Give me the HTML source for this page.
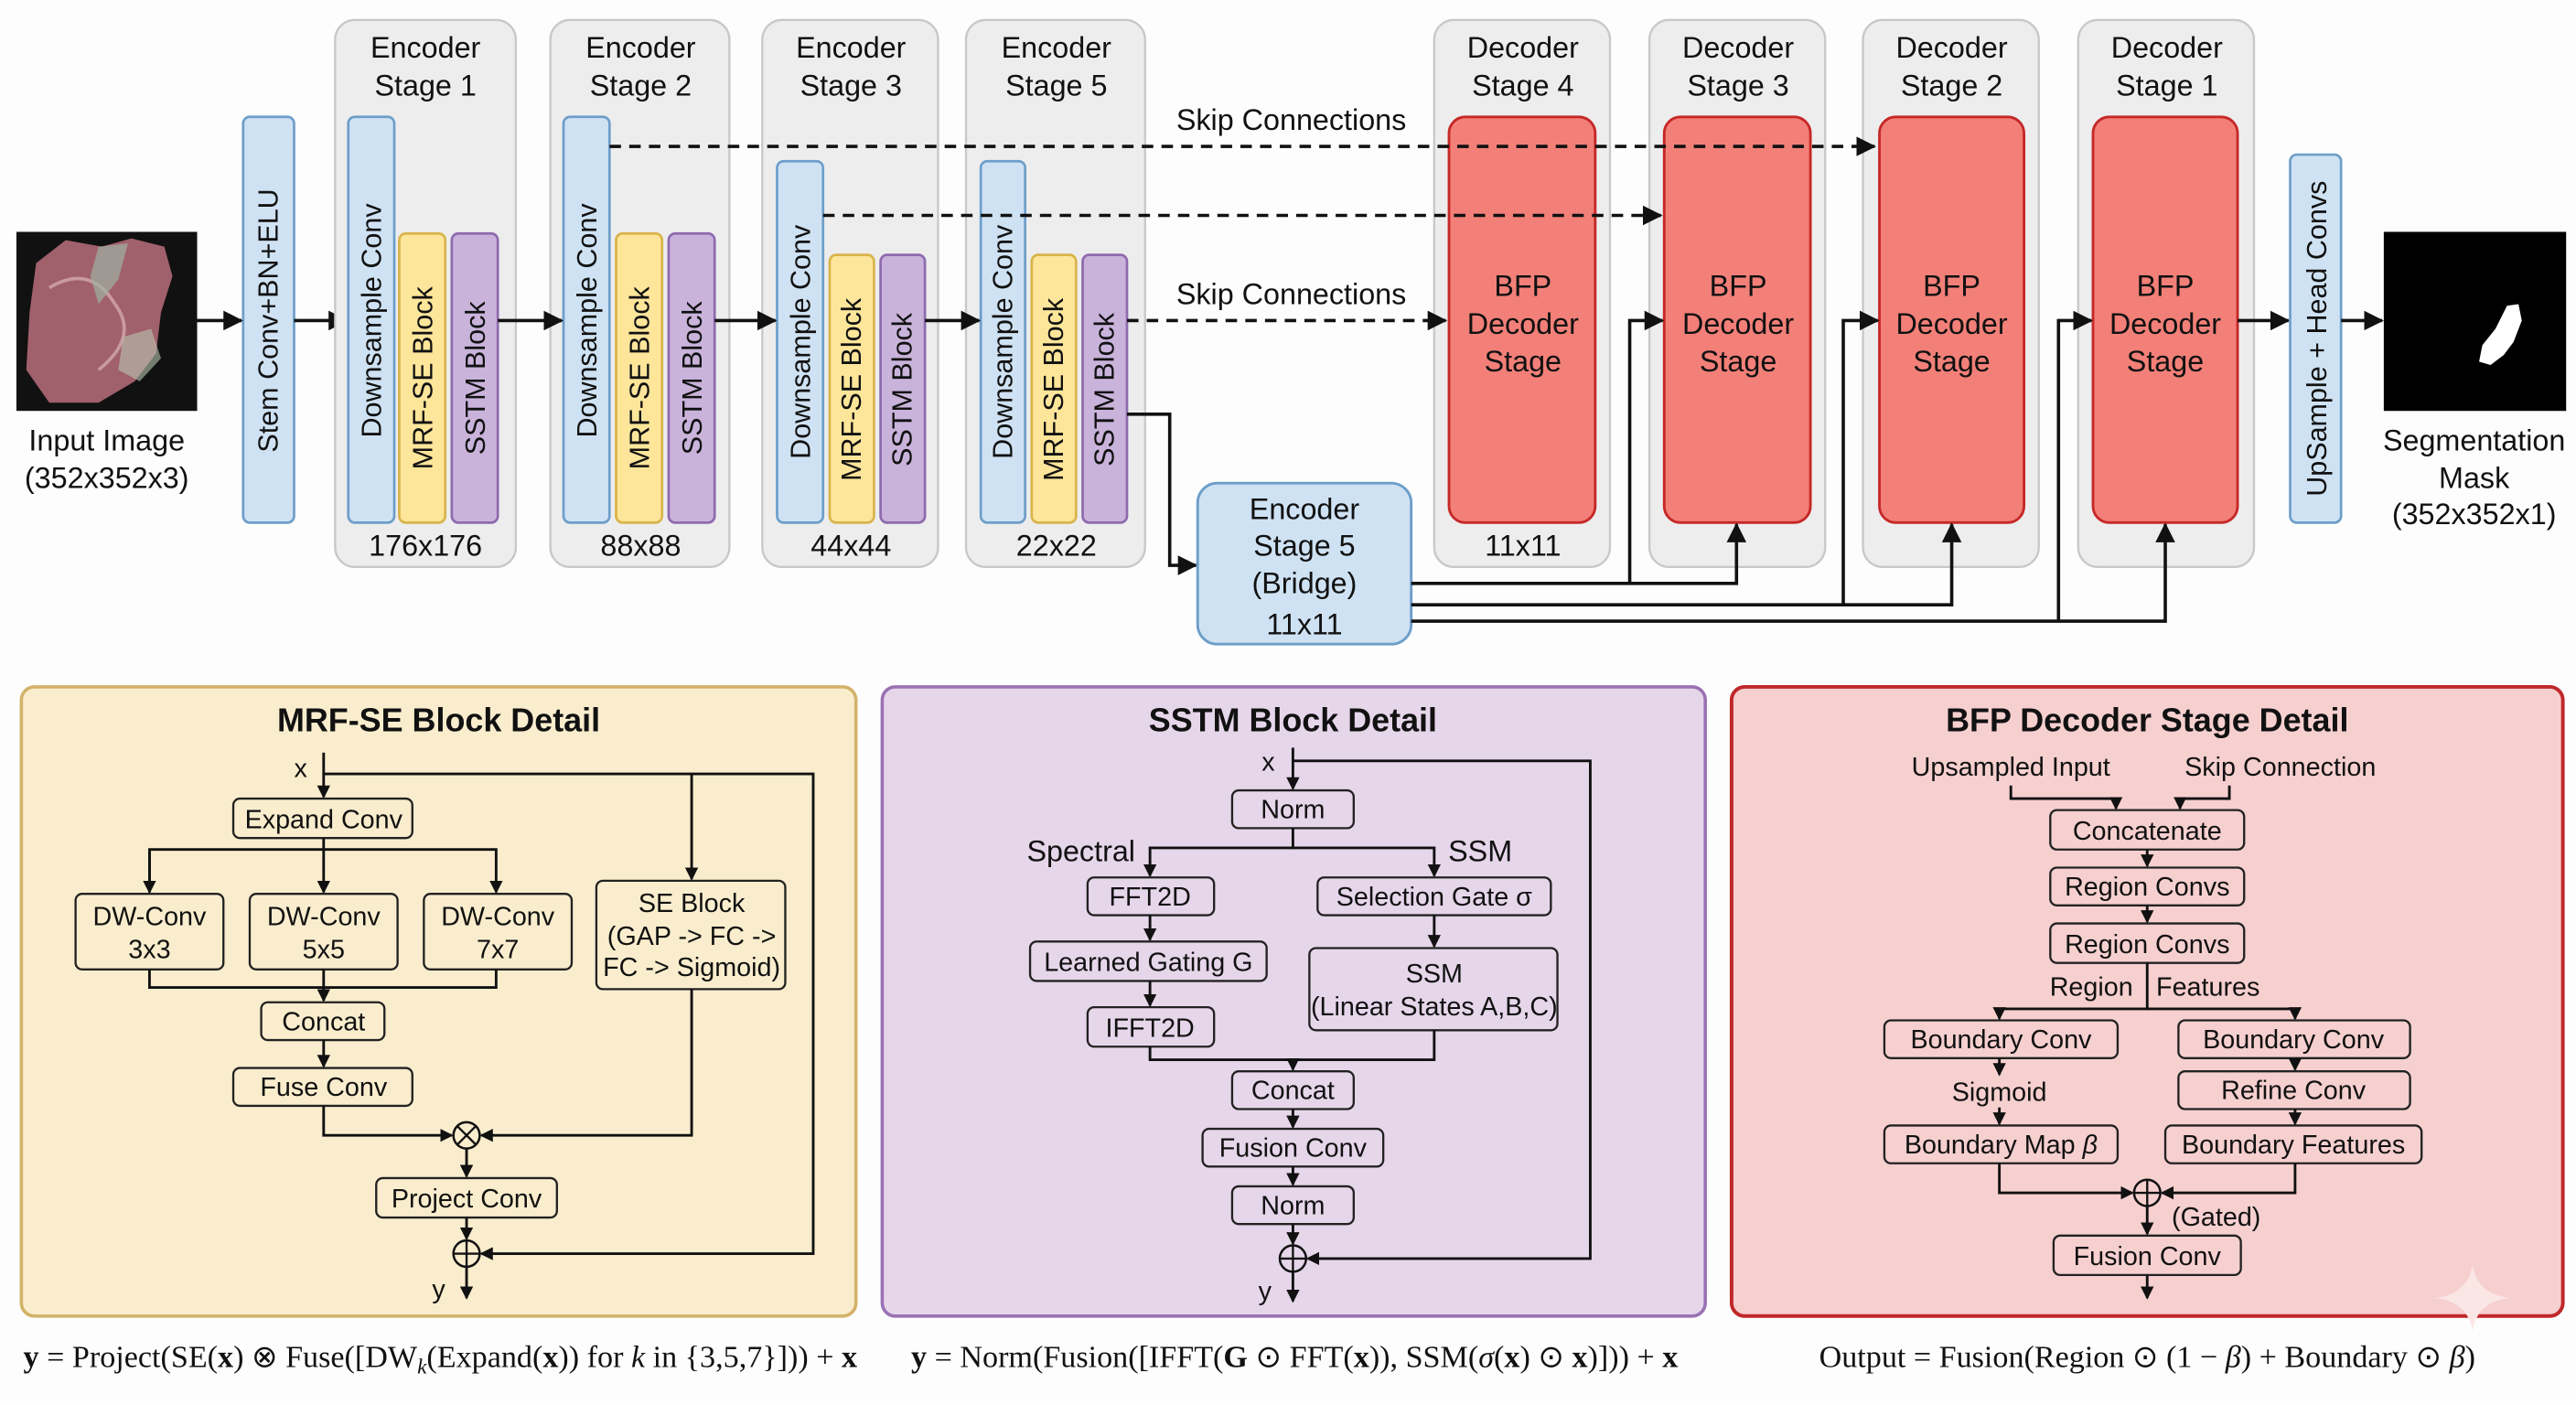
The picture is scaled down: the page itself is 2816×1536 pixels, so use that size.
<!DOCTYPE html>
<html><head><meta charset="utf-8"><style>
html,body{margin:0;padding:0;background:#fff;}
svg{display:block;}
text{font-family:"Liberation Sans",sans-serif;fill:#111;}
.n{font-family:"Liberation Sans Narrow","Liberation Sans",sans-serif;}
.t{font-size:18px;text-anchor:middle;}
.v{font-size:17px;text-anchor:middle;}
.b{font-size:16px;text-anchor:middle;}
.h{font-size:20px;font-weight:bold;text-anchor:middle;}
.f{font-family:"Liberation Serif",serif;font-size:19px;text-anchor:middle;}
.ln{stroke:#111;stroke-width:1.6;fill:none;}
.lt{stroke:#111;stroke-width:2;fill:none;}
.bx{stroke:#222;stroke-width:1.3;rx:4;}
</style></head><body>
<svg width="2816" height="1536" viewBox="0 0 1568 855" xmlns="http://www.w3.org/2000/svg">
<defs>
<marker id="a" markerWidth="12" markerHeight="12" refX="11" refY="6" orient="auto" markerUnits="userSpaceOnUse"><path d="M0,0 L12,6 L0,12 Z" fill="#111"/></marker>
<marker id="s" markerWidth="8" markerHeight="8" refX="7" refY="4" orient="auto" markerUnits="userSpaceOnUse"><path d="M0,0 L8,4 L0,8 Z" fill="#111"/></marker>
</defs>
<rect width="1568" height="855" fill="#fdfdfd"/>

<!-- Input image -->
<rect x="10" y="141" width="110" height="109" fill="#111"/>
<path d="M22,160 L40,146 L62,150 L80,145 L100,150 L105,168 L98,190 L95,215 L82,232 L60,245 L30,245 L16,225 L18,190 Z" fill="#a0606c"/>
<path d="M30,175 Q55,160 70,185 Q85,205 60,225" stroke="#c99aa0" stroke-width="2" fill="none"/>
<path d="M60,150 L78,148 L72,170 L60,185 L55,168 Z" fill="#9fb0a3" opacity="0.7"/>
<path d="M75,205 L92,200 L98,218 L85,232 L72,225 Z" fill="#b9c6b0" opacity="0.6"/>
<text class="t n" x="65" y="274">Input Image</text>
<text class="t n" x="65" y="297">(352x352x3)</text>

<!-- Stem -->
<rect x="148" y="71" width="31" height="247" rx="4" fill="#cfe2f3" stroke="#6d9ec9" stroke-width="1.5"/>
<text class="v" transform="translate(169,195) rotate(-90)">Stem Conv+BN+ELU</text>
<line class="lt" x1="120" y1="195" x2="147" y2="195" marker-end="url(#a)"/>
<line class="lt" x1="179" y1="195" x2="211" y2="195" marker-end="url(#a)"/>

<!-- Encoder panels -->
<g fill="#ededed" stroke="#c8c8c8" stroke-width="1.3">
<rect x="204" y="12" width="110" height="333" rx="12"/>
<rect x="335" y="12" width="109" height="333" rx="12"/>
<rect x="464" y="12" width="107" height="333" rx="12"/>
<rect x="588" y="12" width="109" height="333" rx="12"/>
<rect x="873" y="12" width="107" height="333" rx="12"/>
<rect x="1004" y="12" width="107" height="333" rx="12"/>
<rect x="1134" y="12" width="107" height="333" rx="12"/>
<rect x="1265" y="12" width="107" height="333" rx="12"/>
</g>
<g>
<text class="t n" x="259" y="35">Encoder</text><text class="t n" x="259" y="58">Stage 1</text>
<text class="t n" x="390" y="35">Encoder</text><text class="t n" x="390" y="58">Stage 2</text>
<text class="t n" x="518" y="35">Encoder</text><text class="t n" x="518" y="58">Stage 3</text>
<text class="t n" x="643" y="35">Encoder</text><text class="t n" x="643" y="58">Stage 5</text>
<text class="t n" x="927" y="35">Decoder</text><text class="t n" x="927" y="58">Stage 4</text>
<text class="t n" x="1058" y="35">Decoder</text><text class="t n" x="1058" y="58">Stage 3</text>
<text class="t n" x="1188" y="35">Decoder</text><text class="t n" x="1188" y="58">Stage 2</text>
<text class="t n" x="1319" y="35">Decoder</text><text class="t n" x="1319" y="58">Stage 1</text>
<text class="t n" x="259" y="338">176x176</text>
<text class="t n" x="390" y="338">88x88</text>
<text class="t n" x="518" y="338">44x44</text>
<text class="t n" x="643" y="338">22x22</text>
<text class="t n" x="927" y="338">11x11</text>
</g>

<!-- encoder blocks -->
<g stroke-width="1.5">
<rect x="212" y="71" width="28" height="247" rx="4" fill="#cfe2f3" stroke="#6d9ec9"/>
<rect x="243" y="142" width="28" height="176" rx="4" fill="#fde59a" stroke="#d9b44a"/>
<rect x="275" y="142" width="28" height="176" rx="4" fill="#c9b3db" stroke="#8e6aae"/>
<rect x="343" y="71" width="28" height="247" rx="4" fill="#cfe2f3" stroke="#6d9ec9"/>
<rect x="375" y="142" width="28" height="176" rx="4" fill="#fde59a" stroke="#d9b44a"/>
<rect x="407" y="142" width="28" height="176" rx="4" fill="#c9b3db" stroke="#8e6aae"/>
<rect x="473" y="98" width="28" height="220" rx="4" fill="#cfe2f3" stroke="#6d9ec9"/>
<rect x="505" y="155" width="27" height="163" rx="4" fill="#fde59a" stroke="#d9b44a"/>
<rect x="536" y="155" width="27" height="163" rx="4" fill="#c9b3db" stroke="#8e6aae"/>
<rect x="597" y="98" width="27" height="220" rx="4" fill="#cfe2f3" stroke="#6d9ec9"/>
<rect x="628" y="155" width="27" height="163" rx="4" fill="#fde59a" stroke="#d9b44a"/>
<rect x="659" y="155" width="27" height="163" rx="4" fill="#c9b3db" stroke="#8e6aae"/>
</g>
<g>
<text class="v" transform="translate(232,195) rotate(-90)">Downsample Conv</text>
<text class="v" transform="translate(263,230) rotate(-90)">MRF-SE Block</text>
<text class="v" transform="translate(295,230) rotate(-90)">SSTM Block</text>
<text class="v" transform="translate(363,195) rotate(-90)">Downsample Conv</text>
<text class="v" transform="translate(395,230) rotate(-90)">MRF-SE Block</text>
<text class="v" transform="translate(427,230) rotate(-90)">SSTM Block</text>
<text class="v" transform="translate(493,208) rotate(-90)">Downsample Conv</text>
<text class="v" transform="translate(524,237) rotate(-90)">MRF-SE Block</text>
<text class="v" transform="translate(555,237) rotate(-90)">SSTM Block</text>
<text class="v" transform="translate(616,208) rotate(-90)">Downsample Conv</text>
<text class="v" transform="translate(647,237) rotate(-90)">MRF-SE Block</text>
<text class="v" transform="translate(678,237) rotate(-90)">SSTM Block</text>
</g>
<line class="lt" x1="303" y1="195" x2="342" y2="195" marker-end="url(#a)"/>
<line class="lt" x1="435" y1="195" x2="472" y2="195" marker-end="url(#a)"/>
<line class="lt" x1="563" y1="195" x2="596" y2="195" marker-end="url(#a)"/>

<!-- decoder red boxes -->
<g fill="#f28078" stroke="#c62828" stroke-width="1.6">
<rect x="882" y="71" width="89" height="247" rx="10"/>
<rect x="1013" y="71" width="89" height="247" rx="10"/>
<rect x="1144" y="71" width="88" height="247" rx="10"/>
<rect x="1274" y="71" width="88" height="247" rx="10"/>
</g>
<g>
<text class="t n" x="927" y="180">BFP</text><text class="t n" x="927" y="203">Decoder</text><text class="t n" x="927" y="226">Stage</text>
<text class="t n" x="1058" y="180">BFP</text><text class="t n" x="1058" y="203">Decoder</text><text class="t n" x="1058" y="226">Stage</text>
<text class="t n" x="1188" y="180">BFP</text><text class="t n" x="1188" y="203">Decoder</text><text class="t n" x="1188" y="226">Stage</text>
<text class="t n" x="1318" y="180">BFP</text><text class="t n" x="1318" y="203">Decoder</text><text class="t n" x="1318" y="226">Stage</text>
</g>

<!-- skip connections -->
<g stroke="#111" stroke-width="2" stroke-dasharray="7,5" fill="none">
<line x1="371" y1="89" x2="1141" y2="89" marker-end="url(#a)"/>
<line x1="501" y1="131" x2="1011" y2="131" marker-end="url(#a)"/>
<line x1="686" y1="195" x2="880" y2="195" marker-end="url(#a)"/>
</g>
<text class="t n" x="786" y="79">Skip Connections</text>
<text class="t n" x="786" y="185">Skip Connections</text>

<!-- bridge -->
<path class="lt" d="M686,252 H712 V344 H728" marker-end="url(#a)"/>
<rect x="729" y="294" width="130" height="98" rx="12" fill="#cfe2f3" stroke="#6d9ec9" stroke-width="1.6"/>
<text class="t n" x="794" y="316">Encoder</text>
<text class="t n" x="794" y="338">Stage 5</text>
<text class="t n" x="794" y="361">(Bridge)</text>
<text class="t n" x="794" y="386">11x11</text>
<path class="lt" d="M859,355 H1057 V319" marker-end="url(#a)"/>
<path class="lt" d="M992,355 V195 H1012" marker-end="url(#a)"/>
<path class="lt" d="M859,368 H1188 V319" marker-end="url(#a)"/>
<path class="lt" d="M1122,368 V195 H1143" marker-end="url(#a)"/>
<path class="lt" d="M859,378 H1318 V319" marker-end="url(#a)"/>
<path class="lt" d="M1253,378 V195 H1273" marker-end="url(#a)"/>

<!-- upsample + mask -->
<line class="lt" x1="1362" y1="195" x2="1393" y2="195" marker-end="url(#a)"/>
<rect x="1394" y="94" width="31" height="224" rx="4" fill="#cfe2f3" stroke="#6d9ec9" stroke-width="1.5"/>
<text class="v" transform="translate(1416,206) rotate(-90)">UpSample + Head Convs</text>
<line class="lt" x1="1425" y1="195" x2="1450" y2="195" marker-end="url(#a)"/>
<rect x="1451" y="141" width="111" height="109" fill="#000"/>
<path d="M1526,186 L1533,185 L1535,195 L1530,208 L1524,216 L1516,222 L1509,220 L1511,210 L1519,200 Z" fill="#fff"/>
<text class="t n" x="1506" y="274">Segmentation</text>
<text class="t n" x="1506" y="297">Mask</text>
<text class="t n" x="1506" y="319">(352x352x1)</text>

<!-- ===== MRF-SE panel ===== -->
<rect x="13" y="418" width="508" height="383" rx="8" fill="#f9edcd" stroke="#d4b26a" stroke-width="2"/>
<text class="h" x="267" y="445">MRF-SE Block Detail</text>
<g fill="#f9edcd">
<rect class="bx" x="142" y="486" width="109" height="24"/>
<rect class="bx" x="46" y="544" width="90" height="46"/>
<rect class="bx" x="152" y="544" width="90" height="46"/>
<rect class="bx" x="258" y="544" width="90" height="46"/>
<rect class="bx" x="363" y="536" width="115" height="66" rx="8"/>
<rect class="bx" x="159" y="610" width="75" height="23"/>
<rect class="bx" x="142" y="650" width="109" height="23"/>
<rect class="bx" x="229" y="717" width="110" height="24"/>
</g>
<text class="b n" x="183" y="473">x</text>
<text class="b n" x="197" y="504">Expand Conv</text>
<text class="b n" x="91" y="563">DW-Conv</text><text class="b n" x="91" y="583">3x3</text>
<text class="b n" x="197" y="563">DW-Conv</text><text class="b n" x="197" y="583">5x5</text>
<text class="b n" x="303" y="563">DW-Conv</text><text class="b n" x="303" y="583">7x7</text>
<text class="b n" x="421" y="555">SE Block</text>
<text class="b n" x="421" y="575">(GAP -&gt; FC -&gt;</text>
<text class="b n" x="421" y="594">FC -&gt; Sigmoid)</text>
<text class="b n" x="197" y="627">Concat</text>
<text class="b n" x="197" y="667">Fuse Conv</text>
<text class="b n" x="284" y="735">Project Conv</text>
<text class="b n" x="267" y="790">y</text>
<g class="ln" stroke-width="1.4">
<path d="M197,458 V485" marker-end="url(#s)"/>
<path d="M197,471 H495 V763 H293" marker-end="url(#s)"/>
<path d="M421,471 V535" marker-end="url(#s)"/>
<path d="M197,510 V543" marker-end="url(#s)"/>
<path d="M91,543 V517 H302 V543" marker-end="url(#s)"/>
<path d="M91,517 V543" marker-end="url(#s)"/>
<path d="M91,590 V601 H302 V590"/>
<path d="M197,590 V609" marker-end="url(#s)"/>
<path d="M197,633 V649" marker-end="url(#s)"/>
<path d="M197,673 V691 H275" marker-end="url(#s)"/>
<path d="M421,602 V691 H293" marker-end="url(#s)"/>
<path d="M284,699 V716" marker-end="url(#s)"/>
<path d="M284,741 V754" marker-end="url(#s)"/>
<path d="M284,771 V790" marker-end="url(#s)"/>
</g>
<circle cx="284" cy="691" r="8" fill="none" stroke="#111" stroke-width="1.4"/>
<path d="M278,685 L290,697 M290,685 L278,697" stroke="#111" stroke-width="1.3"/>
<circle cx="284" cy="763" r="8" fill="none" stroke="#111" stroke-width="1.4"/>
<path d="M276,763 H292 M284,755 V771" stroke="#111" stroke-width="1.3"/>
<text class="f" x="268" y="832"><tspan font-weight="bold">y</tspan> = Project(SE(<tspan font-weight="bold">x</tspan>) ⊗ Fuse([DW<tspan font-style="italic" font-size="13" dy="4">k</tspan><tspan dy="-4">(Expand(</tspan><tspan font-weight="bold">x</tspan>)) for <tspan font-style="italic">k</tspan> in {3,5,7}])) + <tspan font-weight="bold">x</tspan></text>

<!-- ===== SSTM panel ===== -->
<rect x="537" y="418" width="501" height="383" rx="8" fill="#e6d6ea" stroke="#9a72b4" stroke-width="2"/>
<text class="h" x="787" y="445">SSTM Block Detail</text>
<g fill="#e6d6ea">
<rect class="bx" x="750" y="481" width="74" height="23"/>
<rect class="bx" x="662" y="534" width="77" height="23"/>
<rect class="bx" x="627" y="573" width="144" height="24"/>
<rect class="bx" x="662" y="613" width="77" height="24"/>
<rect class="bx" x="802" y="534" width="142" height="23"/>
<rect class="bx" x="797" y="577" width="151" height="50" rx="8"/>
<rect class="bx" x="750" y="652" width="74" height="23"/>
<rect class="bx" x="732" y="687" width="110" height="23"/>
<rect class="bx" x="750" y="722" width="74" height="23"/>
</g>
<text class="b n" x="772" y="469">x</text>
<text class="b n" x="787" y="498">Norm</text>
<text class="t n" x="658" y="524">Spectral</text>
<text class="t n" x="901" y="524">SSM</text>
<text class="b n" x="700" y="551">FFT2D</text>
<text class="b n" x="699" y="591">Learned Gating G</text>
<text class="b n" x="700" y="631">IFFT2D</text>
<text class="b n" x="873" y="551">Selection Gate σ</text>
<text class="b n" x="873" y="598">SSM</text>
<text class="b n" x="873" y="618">(Linear States A,B,C)</text>
<text class="b n" x="787" y="669">Concat</text>
<text class="b n" x="787" y="704">Fusion Conv</text>
<text class="b n" x="787" y="739">Norm</text>
<text class="b n" x="770" y="791">y</text>
<g class="ln" stroke-width="1.4">
<path d="M787,455 V480" marker-end="url(#s)"/>
<path d="M787,463 H968 V766 H796" marker-end="url(#s)"/>
<path d="M787,504 V516 H700 V533" marker-end="url(#s)"/>
<path d="M787,516 H873 V533" marker-end="url(#s)"/>
<path d="M700,557 V572" marker-end="url(#s)"/>
<path d="M700,597 V612" marker-end="url(#s)"/>
<path d="M873,557 V576" marker-end="url(#s)"/>
<path d="M700,637 V645 H873 V627"/>
<path d="M787,645 V651" marker-end="url(#s)"/>
<path d="M787,675 V686" marker-end="url(#s)"/>
<path d="M787,710 V721" marker-end="url(#s)"/>
<path d="M787,745 V757" marker-end="url(#s)"/>
<path d="M787,774 V792" marker-end="url(#s)"/>
</g>
<circle cx="787" cy="766" r="8" fill="none" stroke="#111" stroke-width="1.4"/>
<path d="M779,766 H795 M787,758 V774" stroke="#111" stroke-width="1.3"/>
<text class="f" x="788" y="832"><tspan font-weight="bold">y</tspan> = Norm(Fusion([IFFT(<tspan font-weight="bold">G</tspan> ⊙ FFT(<tspan font-weight="bold">x</tspan>)), SSM(<tspan font-style="italic">σ</tspan>(<tspan font-weight="bold">x</tspan>) ⊙ <tspan font-weight="bold">x</tspan>)])) + <tspan font-weight="bold">x</tspan></text>

<!-- ===== BFP panel ===== -->
<rect x="1054" y="418" width="506" height="383" rx="8" fill="#f6cfcf" stroke="#c0282a" stroke-width="2.2"/>
<text class="h" x="1307" y="445">BFP Decoder Stage Detail</text>
<g fill="#f6cfcf">
<rect class="bx" x="1248" y="493" width="118" height="24"/>
<rect class="bx" x="1248" y="528" width="118" height="23"/>
<rect class="bx" x="1248" y="562" width="118" height="24"/>
<rect class="bx" x="1147" y="621" width="142" height="23"/>
<rect class="bx" x="1326" y="621" width="141" height="23"/>
<rect class="bx" x="1326" y="652" width="141" height="23"/>
<rect class="bx" x="1147" y="685" width="142" height="23"/>
<rect class="bx" x="1318" y="685" width="156" height="23"/>
<rect class="bx" x="1250" y="752" width="114" height="24"/>
</g>
<text class="b n" x="1224" y="472">Upsampled Input</text>
<text class="b n" x="1388" y="472">Skip Connection</text>
<text class="b n" x="1307" y="511">Concatenate</text>
<text class="b n" x="1307" y="545">Region Convs</text>
<text class="b n" x="1307" y="580">Region Convs</text>
<text class="b n" x="1273" y="606">Region</text>
<text class="b n" x="1344" y="606">Features</text>
<text class="b n" x="1218" y="638">Boundary Conv</text>
<text class="b n" x="1396" y="638">Boundary Conv</text>
<text class="b n" x="1217" y="670">Sigmoid</text>
<text class="b n" x="1396" y="669">Refine Conv</text>
<text class="b n" x="1218" y="702">Boundary Map <tspan font-style="italic">β</tspan></text>
<text class="b n" x="1396" y="702">Boundary Features</text>
<text class="b n" x="1349" y="746">(Gated)</text>
<text class="b n" x="1307" y="770">Fusion Conv</text>
<g class="ln" stroke-width="1.4">
<path d="M1224,478 V486 H1288 V492" marker-end="url(#s)"/>
<path d="M1357,478 V486 H1327 V492" marker-end="url(#s)"/>
<path d="M1307,517 V527" marker-end="url(#s)"/>
<path d="M1307,551 V561" marker-end="url(#s)"/>
<path d="M1307,586 V614 H1217 V620" marker-end="url(#s)"/>
<path d="M1307,614 H1397 V620" marker-end="url(#s)"/>
<path d="M1217,644 V654" marker-end="url(#s)"/>
<path d="M1217,674 V684" marker-end="url(#s)"/>
<path d="M1397,644 V651" marker-end="url(#s)"/>
<path d="M1397,675 V684" marker-end="url(#s)"/>
<path d="M1217,708 V726 H1298" marker-end="url(#s)"/>
<path d="M1397,708 V726 H1316" marker-end="url(#s)"/>
<path d="M1307,734 V751" marker-end="url(#s)"/>
<path d="M1307,776 V790" marker-end="url(#s)"/>
</g>
<circle cx="1307" cy="726" r="8" fill="none" stroke="#111" stroke-width="1.4"/>
<path d="M1299,726 H1315 M1307,718 V734" stroke="#111" stroke-width="1.3"/>
<path d="M1505,770 Q1508,788 1528,790 Q1508,792 1505,810 Q1502,792 1482,790 Q1502,788 1505,770 Z" fill="#fbe6e6"/>
<text class="f" x="1307" y="832">Output = Fusion(Region ⊙ (1 − <tspan font-style="italic">β</tspan>) + Boundary ⊙ <tspan font-style="italic">β</tspan>)</text>
</svg>
</body></html>
